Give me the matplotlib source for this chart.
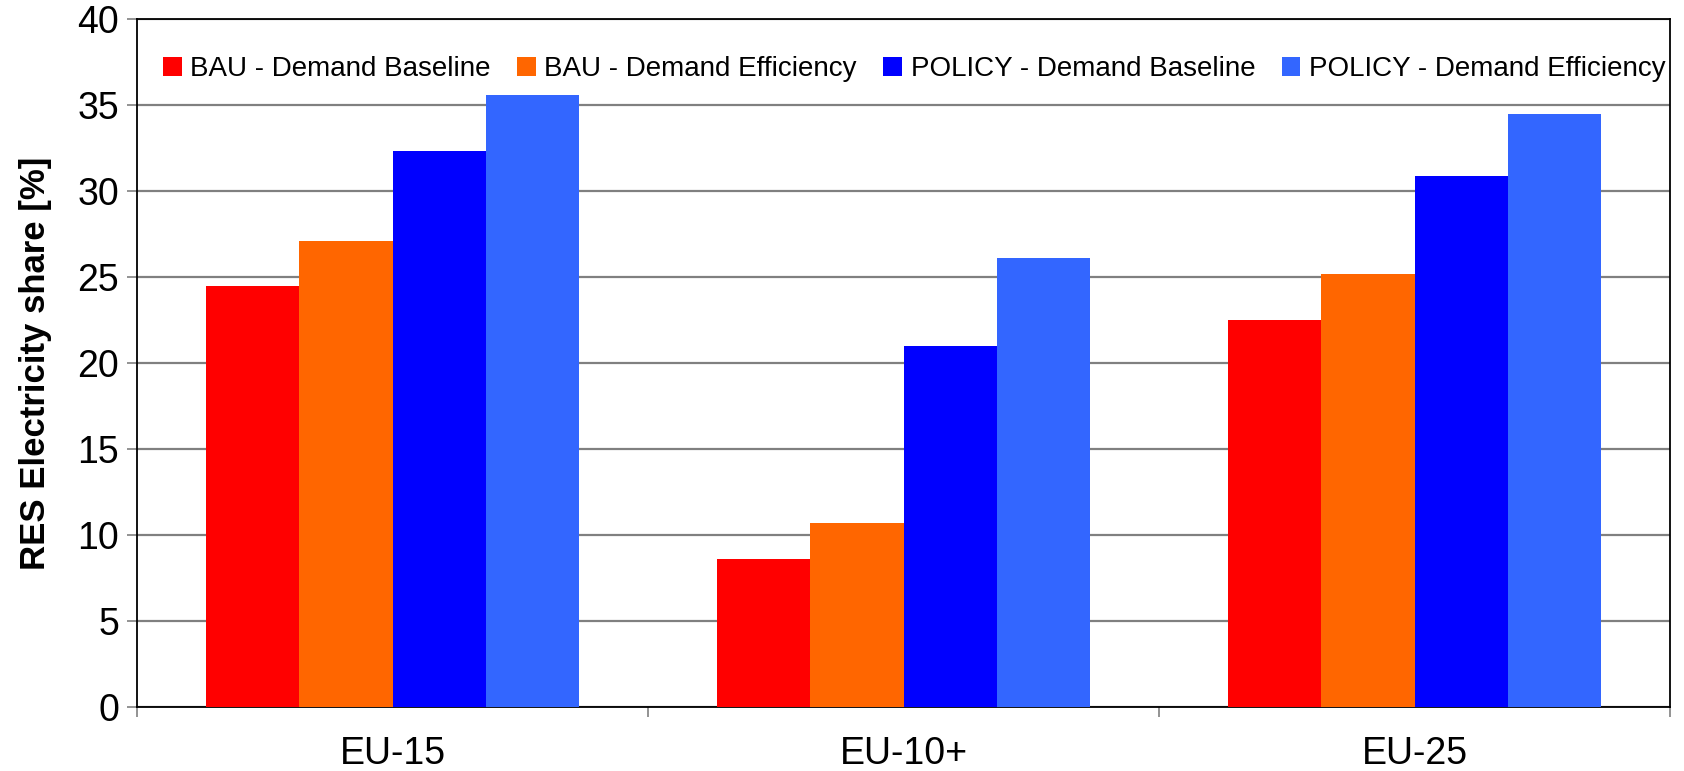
import matplotlib
matplotlib.use("Agg")
import matplotlib.pyplot as plt
import numpy as np

categories = ["EU-15", "EU-10+", "EU-25"]
series_names = ["BAU - Demand Baseline", "BAU - Demand Efficiency",
                "POLICY - Demand Baseline", "POLICY - Demand Efficiency"]
bau_baseline = [24.5, 8.6, 22.5]
bau_efficiency = [27.1, 10.7, 25.2]
policy_baseline = [32.3, 21.0, 30.9]
policy_efficiency = [35.6, 26.1, 34.5]
colors = ["#FF0000", "#FF6600", "#0000FF", "#3366FF"]
yticks = [0, 5, 10, 15, 20, 25, 30, 35, 40]

plt.rcParams['font.family'] = ['Liberation Sans', 'DejaVu Sans']

W, H = 1684, 771
fig = plt.figure(figsize=(W/100, H/100), dpi=100)
L, R, T, B = 137, 1670, 19, 707
ax = fig.add_axes([L/W, 1-B/H, (R-L)/W, (B-T)/H])

x = np.arange(len(categories))
w = 0.182
data = [bau_baseline, bau_efficiency, policy_baseline, policy_efficiency]
for i, (vals, name, c) in enumerate(zip(data, series_names, colors)):
    ax.bar(x + (i - 1.5) * w, vals, width=w, color=c, label=name, zorder=3)

ax.set_xlim(-0.5, len(categories) - 0.5)
ax.set_ylim(0, 40)
ax.set_yticks(yticks)
ax.set_yticklabels([str(t) for t in yticks], fontsize=27)
ax.yaxis.grid(True, color="#808080", linewidth=1.6, zorder=0)
ax.set_axisbelow(True)

ax.set_xticks(x)
ax.set_xticklabels(categories, fontsize=27)
ax.tick_params(axis='x', length=0, pad=21)
ax.set_xticks(np.arange(-0.5, len(categories)), minor=True)
ax.tick_params(axis='x', which='minor', length=7, width=1.2, color="#808080")
ax.tick_params(axis='y', length=7, width=1.2, color="#808080", pad=6)

for s in ax.spines.values():
    s.set_color("black")
    s.set_linewidth(1.3)

ax.set_ylabel("RES Electricity share [%]", fontsize=25, fontweight='bold', labelpad=18)

leg = ax.legend(loc='upper center', bbox_to_anchor=(0.507, 0.978), ncol=4, frameon=False,
                fontsize=20, handlelength=0.68, handleheight=0.68, handletextpad=0.3,
                columnspacing=0.95, borderpad=0.3)

fig.savefig("out.png", dpi=100)
